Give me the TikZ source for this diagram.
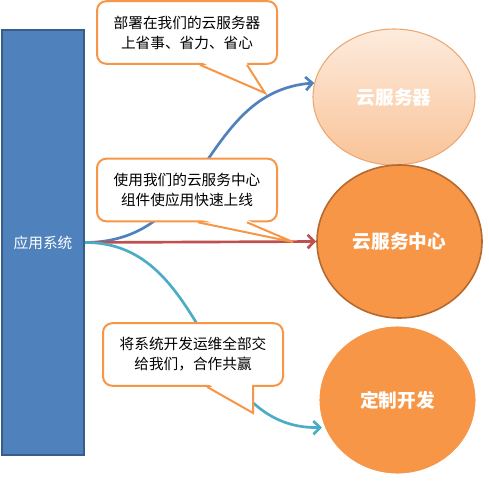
\documentclass[tikz,border=0pt]{standalone}
\usepackage{fontspec}
\setmainfont{Noto Sans CJK SC}
\usetikzlibrary{arrows.meta,positioning,calc,shapes.geometric,shadows}
\definecolor{appblue}{HTML}{4F81BD}
\definecolor{appborder}{HTML}{385D8A}
\definecolor{srvtop}{HTML}{FDEBDD}
\definecolor{srvbottom}{HTML}{F9C397}
\definecolor{srvborder}{HTML}{EBA873}
\definecolor{hubfill}{HTML}{F79646}
\definecolor{hubborder}{HTML}{B6692F}
\definecolor{noteorange}{HTML}{F79646}
\definecolor{linkblue}{HTML}{4F81BD}
\definecolor{linkred}{HTML}{C0504D}
\definecolor{linkteal}{HTML}{4BACC6}

\begin{document}
\begin{tikzpicture}[x=0.75pt,y=-0.75pt,
  sysbox/.style={draw=appborder, line width=1.5pt, fill=appblue, text=white, minimum width=61.5pt, minimum height=318.75pt, inner sep=0pt, font=\fontsize{11}{13}\selectfont},
  ball/.style={ellipse, inner sep=0pt, text=white, font=\fontsize{14}{16}\selectfont\bfseries},
  note/.style={draw=noteorange, line width=1.5pt, fill=white, rounded corners=7pt, minimum width=135pt, minimum height=47pt, align=center, inner sep=0pt, font=\fontsize{11}{15}\selectfont},
  pointer/.style={draw=noteorange, line width=1.5pt, line join=miter},
  flow/.style={line width=2pt, -{Straight Barb[length=5pt,width=10pt]}}]
  \useasboundingbox (0,0) rectangle (489,485);

  % left block and the three targets
  \node[sysbox] (app) at (43,242.5) {应用系统};
  \node[ball, minimum width=121.5pt, minimum height=102pt, draw=srvborder, line width=0.8pt,
        top color=srvtop, bottom color=srvbottom] (srv) at (394,97) {云服务器};
  \node[ball, minimum width=123.75pt, minimum height=114.75pt, fill=hubfill, draw=hubborder,
        line width=1.2pt] (hub) at (399.5,241.5) {云服务中心};
  \node[ball, minimum width=119.25pt, minimum height=112.5pt, fill=hubfill, draw=white,
        line width=2.2pt, drop shadow={opacity=0.25, shadow xshift=0.6pt, shadow yshift=-0.8pt}]
        (custom) at (397.5,400) {定制开发};

  % links
  \draw[flow, linkblue] (app.east) .. controls (210,242) and (200,92) .. (srv.170);
  \draw[flow, linkred] (app.east) -- (hub.west);
  \draw[flow, linkteal] (app.east) .. controls (210,242) and (200,430) .. (custom.200);

  % callouts
  \node[note] (tip1) at (187,32.5) {部署在我们的云服务器\\上省事、省力、省心};
  \coordinate (tip1end) at (265,93);
  \fill[white] ($(tip1.south)+(14,-3)$) -- (tip1end) -- ($(tip1.south)+(59,-3)$) -- cycle;
  \draw[pointer] ($(tip1.south)+(13,0)$) -- (tip1end) -- ($(tip1.south)+(60,0)$);

  \node[note] (tip2) at (187,190) {使用我们的云服务中心\\组件使应用快速上线};
  \coordinate (tip2end) at (293,242);
  \fill[white] ($(tip2.south)+(12,-3)$) -- (tip2end) -- ($(tip2.south)+(59,-3)$) -- cycle;
  \draw[pointer] ($(tip2.south)+(11,0)$) -- (tip2end) -- ($(tip2.south)+(60,0)$);

  \node[note] (tip3) at (193,354.5) {将系统开发运维全部交\\给我们，合作共赢};
  \coordinate (tip3end) at (253,413);
  \fill[white] ($(tip3.south)+(15,-3)$) -- (tip3end) -- ($(tip3.south)+(59,-3)$) -- cycle;
  \draw[pointer] ($(tip3.south)+(14,0)$) -- (tip3end) -- ($(tip3.south)+(60,0)$);
\end{tikzpicture}
\end{document}
